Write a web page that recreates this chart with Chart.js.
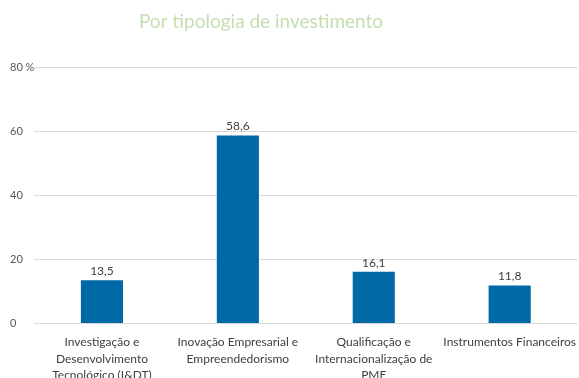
<!DOCTYPE html>
<html>
<head>
<meta charset="utf-8">
<script src="https://cdn.jsdelivr.net/npm/chart.js@4"></script>
<style>
  html, body { margin: 0; padding: 0; background: #fff; overflow: hidden; }
  #wrap { width: 579px; height: 386px; }
</style>
</head>
<body>
<div id="wrap"><canvas id="investChart" width="579" height="386"></canvas></div>
<script>
const categories = [
    ['Investigação e', 'Desenvolvimento', 'Tecnológico (I&DT)'],
    ['Inovação Empresarial e', 'Empreendedorismo'],
    ['Qualificação e', 'Internacionalização de', 'PME'],
    ['Instrumentos Financeiros']
];
const shares = [13.5, 58.6, 16.1, 11.8];
const yTicks = [0, 20, 40, 60, 80];
const chartTitle = 'Por tipologia de investimento';

// heading sits a little left of the canvas centre
const heading = {
    id: 'heading',
    afterDraw(chart) {
        const ctx = chart.ctx;
        ctx.save();
        ctx.font = '19px Lato';
        ctx.fillStyle = '#c3dfb0';
        ctx.textAlign = 'center';
        ctx.textBaseline = 'middle';
        ctx.fillText(chartTitle, 261, 22);
        ctx.restore();
    }
};

// writes each value above its bar, decimal comma
const barValues = {
    id: 'barValues',
    afterDatasetsDraw(chart) {
        const ctx = chart.ctx;
        const meta = chart.getDatasetMeta(0);
        ctx.save();
        ctx.font = '12px Lato';
        ctx.fillStyle = '#404040';
        ctx.textAlign = 'center';
        ctx.textBaseline = 'bottom';
        meta.data.forEach((bar, i) => {
            ctx.fillText(shares[i].toFixed(1).replace('.', ','), bar.x, bar.y - 3);
        });
        ctx.restore();
    }
};

new Chart(document.getElementById('investChart'), {
    type: 'bar',
    data: {
        labels: categories,
        datasets: [{
            data: shares,
            backgroundColor: '#0069a6',
            barPercentage: 0.31,
            categoryPercentage: 1
        }]
    },
    options: {
        responsive: false,
        animation: false,
        devicePixelRatio: 1,
        layout: { padding: { left: 10, right: 0, top: 67, bottom: 0 } },
        scales: {
            x: {
                grid: { display: false },
                border: { display: false },
                ticks: {
                    color: '#404040',
                    font: { family: 'Lato', size: 12, lineHeight: 1.35 },
                    padding: 3,
                    maxRotation: 0,
                    autoSkip: false
                }
            },
            y: {
                min: 0,
                max: 80,
                afterBuildTicks: s => { s.ticks = yTicks.map(v => ({ value: v })); },
                afterFit: s => { s.width = 24; },
                grid: { color: '#d9d9d9', drawTicks: false },
                border: { display: false },
                ticks: {
                    color: '#595959',
                    font: { family: 'Lato', size: 11 },
                    crossAlign: 'far',
                    padding: 0,
                    showLabelBackdrop: true,
                    backdropColor: '#fff',
                    backdropPadding: { x: 2, y: 0 },
                    callback: v => v === 80 ? '80 %' : v
                }
            }
        },
        plugins: {
            legend: { display: false },
            tooltip: { enabled: false },
            title: { display: false }
        }
    },
    plugins: [barValues, heading]
});
</script>
</body>
</html>
